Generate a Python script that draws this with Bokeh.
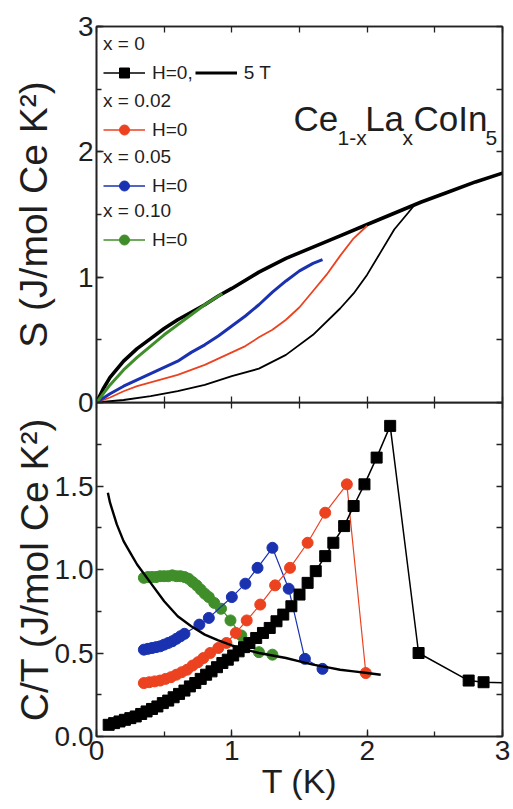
from bokeh.plotting import figure
from bokeh.models import (Range1d, LinearAxis, SingleIntervalTicker, FixedTicker,
                          NumeralTickFormatter, Legend, LegendItem, Label)
from bokeh.layouts import column
from bokeh.embed import file_html
from bokeh.resources import INLINE

FONT = "Liberation Sans"
RED = "#ec4220"
BLUE = "#1a32b0"
GREEN = "#3f8e2a"
TXT = "#1e1e1e"

# ---------------- top panel: entropy S(T) ----------------
s5T_T = [0, 0.05, 0.1, 0.2, 0.3, 0.4, 0.5, 0.6, 0.7, 0.8, 0.9, 1.0, 1.2, 1.4, 1.6, 1.8, 2.0, 2.2, 2.4, 2.6, 2.8, 3.0]
s5T_S = [0, 0.11, 0.20, 0.33, 0.43, 0.51, 0.59, 0.66, 0.72, 0.78, 0.85, 0.91, 1.04, 1.15, 1.24, 1.33, 1.42, 1.51, 1.60, 1.68, 1.76, 1.83]

s00_T = [0, 0.2, 0.4, 0.6, 0.8, 1.0, 1.2, 1.4, 1.6, 1.8, 1.9, 2.0, 2.1, 2.2, 2.3, 2.36]
s00_S = [0, 0.02, 0.05, 0.09, 0.14, 0.21, 0.27, 0.38, 0.54, 0.75, 0.87, 1.02, 1.20, 1.38, 1.51, 1.59]

s02_T = [0, 0.1, 0.2, 0.3, 0.4, 0.5, 0.6, 0.7, 0.8, 0.9, 1.0, 1.1, 1.2, 1.3, 1.4, 1.5, 1.6, 1.7, 1.8, 1.9, 2.0]
s02_S = [0, 0.04, 0.09, 0.13, 0.16, 0.19, 0.22, 0.26, 0.30, 0.35, 0.40, 0.45, 0.52, 0.58, 0.66, 0.76, 0.89, 1.02, 1.17, 1.31, 1.41]

s05_T = [0, 0.1, 0.2, 0.3, 0.4, 0.5, 0.6, 0.7, 0.8, 0.9, 1.0, 1.1, 1.2, 1.3, 1.4, 1.5, 1.6, 1.67]
s05_S = [0, 0.07, 0.13, 0.18, 0.23, 0.28, 0.33, 0.40, 0.46, 0.53, 0.61, 0.69, 0.78, 0.88, 0.97, 1.05, 1.11, 1.14]

s10_T = [0, 0.1, 0.2, 0.3, 0.4, 0.5, 0.6, 0.7, 0.8, 0.93]
s10_S = [0, 0.14, 0.26, 0.36, 0.45, 0.54, 0.62, 0.70, 0.78, 0.87]

# ---------------- bottom panel: C/T ----------------
c00_T = [0.09, 0.13, 0.17, 0.21, 0.25, 0.29, 0.33, 0.37, 0.41, 0.45, 0.49, 0.53, 0.57, 0.61, 0.65,
         0.69, 0.73, 0.77, 0.81, 0.85, 0.89, 0.93, 0.97, 1.01, 1.05, 1.09, 1.13, 1.18, 1.23, 1.28,
         1.33, 1.38, 1.44, 1.50, 1.56, 1.62, 1.69, 1.75, 1.83, 1.90, 1.98, 2.07, 2.17, 2.38, 2.75,
         2.86, 3.10]
c00_C = [0.07, 0.08, 0.09, 0.10, 0.11, 0.12, 0.135, 0.15, 0.165, 0.18, 0.20, 0.215, 0.235, 0.255,
         0.275, 0.30, 0.32, 0.345, 0.37, 0.39, 0.415, 0.44, 0.46, 0.485, 0.51, 0.535, 0.56, 0.59,
         0.62, 0.65, 0.69, 0.73, 0.78, 0.85, 0.92, 0.99, 1.08, 1.16, 1.26, 1.38, 1.51, 1.67, 1.86,
         0.50, 0.335, 0.325, 0.32]

c02_T = [0.35, 0.39, 0.43, 0.47, 0.51, 0.55, 0.59, 0.63, 0.67, 0.71, 0.75, 0.79, 0.84, 0.90,
         0.96, 1.03, 1.11, 1.21, 1.32, 1.43, 1.56, 1.69, 1.85, 1.99]
c02_C = [0.32, 0.325, 0.33, 0.335, 0.345, 0.355, 0.37, 0.385, 0.40, 0.425, 0.445, 0.47, 0.50,
         0.53, 0.56, 0.62, 0.695, 0.79, 0.905, 1.01, 1.16, 1.34, 1.51, 0.38]

c05_T = [0.35, 0.38, 0.41, 0.44, 0.47, 0.50, 0.53, 0.56, 0.59, 0.62, 0.65, 0.76, 0.83, 1.00,
         1.10, 1.19, 1.30, 1.42, 1.54, 1.67]
c05_C = [0.52, 0.525, 0.53, 0.535, 0.54, 0.55, 0.56, 0.57, 0.585, 0.60, 0.615, 0.67, 0.71,
         0.835, 0.915, 1.01, 1.13, 0.885, 0.465, 0.405]

c10_T = [0.35, 0.38, 0.41, 0.44, 0.47, 0.50, 0.53, 0.56, 0.59, 0.62, 0.65, 0.68, 0.71, 0.74,
         0.77, 0.80, 0.83, 0.87, 0.92, 0.99, 1.07, 1.20, 1.30]
c10_C = [0.95, 0.955, 0.955, 0.955, 0.96, 0.96, 0.96, 0.965, 0.96, 0.96, 0.955, 0.945, 0.925,
         0.905, 0.88, 0.855, 0.835, 0.80, 0.765, 0.695, 0.605, 0.505, 0.49]

c5T_T = [0.084, 0.1, 0.15, 0.2, 0.25, 0.3, 0.4, 0.5, 0.6, 0.7, 0.8, 0.9, 1.0, 1.1, 1.2, 1.3,
         1.4, 1.5, 1.6, 1.7, 1.8, 1.9, 2.0, 2.1]
c5T_C = [1.46, 1.40, 1.27, 1.17, 1.10, 1.03, 0.92, 0.81, 0.72, 0.66, 0.61, 0.575, 0.545, 0.52,
         0.50, 0.485, 0.47, 0.45, 0.43, 0.415, 0.40, 0.39, 0.38, 0.37]

# tick positions
x_ticks = [0, 1, 2, 3]
x_all_ticks = [0, 0.5, 1, 1.5, 2, 2.5, 3]
s_ticks = [0, 1, 2, 3]
s_all_ticks = [0, 0.5, 1, 1.5, 2, 2.5, 3]
c_ticks = [0.0, 0.5, 1.0, 1.5]
c_minor_ticks = [0.25, 0.75, 1.25, 1.75]
c_all_ticks = [0, 0.25, 0.5, 0.75, 1.0, 1.25, 1.5, 1.75, 2.0]

# ---------------- helpers ----------------
W = 513
LB, RB = 96, 11
OVER = 16  # bottom strip of the top canvas that the lower panel overlaps


def style_axis(ax, ticker, labels=True, fmt=None, label=None, lab_standoff=0):
    ax.ticker = ticker
    ax.axis_line_color = "#222"
    ax.axis_line_width = 1.6
    ax.major_tick_line_color = "#222"
    ax.minor_tick_line_color = "#222"
    ax.major_tick_line_width = 1.3
    ax.minor_tick_line_width = 1.3
    ax.major_tick_in = 7
    ax.major_tick_out = 0
    ax.minor_tick_in = 6 if not labels else 5
    ax.minor_tick_out = 0
    if fmt is not None:
        ax.formatter = fmt
    ax.major_label_text_font = FONT
    ax.major_label_text_font_size = "28px"
    ax.major_label_text_color = TXT
    ax.major_label_standoff = 3
    if label is not None:
        ax.axis_label = label
        ax.axis_label_text_font = FONT
        ax.axis_label_text_font_style = "normal"
        ax.axis_label_text_color = TXT
        ax.axis_label_standoff = lab_standoff


def plain_axis(all_ticks):
    ax = LinearAxis()
    style_axis(ax, FixedTicker(ticks=[], minor_ticks=all_ticks), labels=False)
    return ax


def base_fig(height, yr, top_b, bot_b):
    p = figure(width=W, height=height, x_range=Range1d(0, 3), y_range=yr,
               output_backend="svg", toolbar_location=None,
               x_axis_location=None, y_axis_location=None,
               min_border_left=LB, min_border_right=RB,
               min_border_top=top_b, min_border_bottom=bot_b)
    p.xgrid.visible = False
    p.ygrid.visible = False
    p.outline_line_color = "#222"
    p.outline_line_width = 1.6
    p.background_fill_color = None
    p.border_fill_color = None
    return p


# ---------------- top figure ----------------
top = base_fig(402 + OVER, Range1d(0, 3), 26, OVER)
ax = LinearAxis()
style_axis(ax, SingleIntervalTicker(interval=1, num_minor_ticks=2),
           label="S (J/mol Ce K²)", lab_standoff=20)
ax.axis_label_text_font_size = "39px"
top.add_layout(ax, "left")
top.add_layout(plain_axis(s_all_ticks), "right")
top.add_layout(plain_axis(x_all_ticks), "above")
top.add_layout(plain_axis(x_all_ticks), "below")

top.line(s5T_T, s5T_S, line_color="black", line_width=3.6)
top.line(s00_T, s00_S, line_color="black", line_width=1.8)
top.line(s02_T, s02_S, line_color=RED, line_width=1.8)
top.line(s05_T, s05_S, line_color=BLUE, line_width=3.0)
top.line(s10_T, s10_S, line_color=GREEN, line_width=3.0)

# hidden renderers used only as legend samples
lg00_l = top.line(c00_T, c00_C, line_color="black", line_width=1.5, visible=False)
lg00_m = top.scatter(c00_T, c00_C, marker="square", color="black", visible=False)
lg5T_l = top.line(c5T_T, c5T_C, line_color="black", line_width=3.2, visible=False)
lg02_l = top.line(c02_T, c02_C, line_color=RED, line_width=1.5, visible=False)
lg02_m = top.scatter(c02_T, c02_C, marker="circle", color=RED, visible=False)
lg05_l = top.line(c05_T, c05_C, line_color=BLUE, line_width=1.5, visible=False)
lg05_m = top.scatter(c05_T, c05_C, marker="circle", color=BLUE, visible=False)
lg10_l = top.line(c10_T, c10_C, line_color=GREEN, line_width=1.5, visible=False)
lg10_m = top.scatter(c10_T, c10_C, marker="circle", color=GREEN, visible=False)


def add_legend(title, items, y):
    lg = Legend(items=items, title=title, location=(7, y), orientation="horizontal",
                border_line_color=None, background_fill_alpha=0, padding=0, margin=0,
                spacing=2, label_standoff=7, glyph_width=42, glyph_height=25,
                label_height=20, label_text_font=FONT, label_text_font_size="19px",
                label_text_color=TXT, title_text_font=FONT, title_text_font_size="19px",
                title_text_font_style="normal", title_text_color=TXT, title_standoff=5)
    top.add_layout(lg)


add_legend("x = 0", [LegendItem(label="H=0,", renderers=[lg00_l, lg00_m]),
                     LegendItem(label="5 T", renderers=[lg5T_l])], 317)
add_legend("x = 0.02", [LegendItem(label="H=0", renderers=[lg02_l, lg02_m])], 260)
add_legend("x = 0.05", [LegendItem(label="H=0", renderers=[lg05_l, lg05_m])], 204)
add_legend("x = 0.10", [LegendItem(label="H=0", renderers=[lg10_l, lg10_m])], 150)

# compound formula Ce(1-x)La(x)CoIn5
parts = [("Ce", 1.456, False), ("1-x", 1.781, True), ("La", 1.985, False),
         ("x", 2.262, True), ("CoIn", 2.342, False), ("5", 2.875, True)]
for txt, xx, sub in parts:
    top.add_layout(Label(x=xx, y=2.114 if sub else 2.266, text=txt, text_font=FONT,
                         text_font_size="21px" if sub else "35px", text_color=TXT,
                         text_baseline="alphabetic"))

# ---------------- bottom figure ----------------
bot = base_fig(407, Range1d(0, 2), 0, 73)
bot.margin = (-OVER, 0, 0, 0)
ax = LinearAxis()
style_axis(ax, FixedTicker(ticks=c_ticks, minor_ticks=c_minor_ticks),
           fmt=NumeralTickFormatter(format="0.0"),
           label="C/T (J/mol Ce K²)", lab_standoff=-4)
ax.axis_label_text_font_size = "39px"
bot.add_layout(ax, "left")
ax = LinearAxis()
style_axis(ax, SingleIntervalTicker(interval=1, num_minor_ticks=2), label="T (K)", lab_standoff=-1)
ax.major_label_standoff = 4
ax.axis_label_text_font_size = "34px"
bot.add_layout(ax, "below")
bot.add_layout(plain_axis(c_all_ticks), "right")
bot.add_layout(plain_axis(x_all_ticks), "above")

bot.line(c10_T, c10_C, line_color=GREEN, line_width=1.2)
bot.scatter(c10_T, c10_C, marker="circle", size=11, color=GREEN)
bot.line(c05_T, c05_C, line_color=BLUE, line_width=1.2)
bot.scatter(c05_T, c05_C, marker="circle", size=11, color=BLUE)
bot.line(c02_T, c02_C, line_color=RED, line_width=1.2)
bot.scatter(c02_T, c02_C, marker="circle", size=11, color=RED)
bot.line(c00_T, c00_C, line_color="black", line_width=1.5)
bot.scatter(c00_T, c00_C, marker="square", size=11, color="black")
bot.line(c5T_T, c5T_C, line_color="black", line_width=2.4)

layout = column(top, bot, spacing=0)
open("out.html", "w").write(file_html(layout, INLINE))
